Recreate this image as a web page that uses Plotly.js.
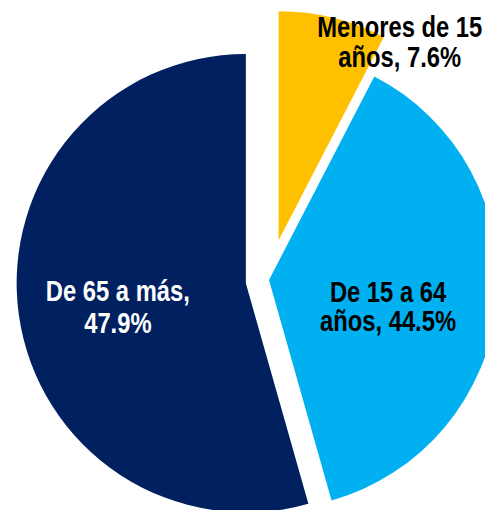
<!DOCTYPE html>
<html>
<head>
<meta charset="utf-8">
<script src="https://cdn.plot.ly/plotly-3.0.1.min.js"></script>
<style>
  html, body { margin: 0; padding: 0; overflow: hidden; background: #ffffff; }
  #frame { position: relative; width: 485px; height: 510px; overflow: hidden; }
  #chart { position: absolute; left: -1px; top: 10px; width: 540px; height: 540px; }
</style>
</head>
<body>
<div id="frame"><div id="chart"></div></div>
<script>
// ---- data ----
const categories = ['Menores de 15 años', 'De 15 a 64 años', 'De 65 a más'];
// angular shares of the slices as drawn in the picture
const sliceValues = [7.6, 38.0, 54.4];
// percentages printed on the labels
const labelPercents = [7.6, 44.5, 47.9];
const sliceColors = ['#FFC000', '#00B0F0', '#002060'];
const textColors = ['#000000', '#000000', '#ffffff'];
const slicePull = [0.178, 0, 0.102];
// words placed on the first label line
const firstLineWords = [3, 4, 4];

// ---- layout helpers ----
const OFF_L = -1, OFF_T = 10, W = 540, H = 540;
const px2x = p => (p - OFF_L) / W;
const px2y = p => 1 - (p - OFF_T) / H;
// label block anchors (page pixels) and gap between the two lines
const labelPos = [[399.5, 45.8], [387.5, 310.8], [118, 309.8]];
const labelLineGap = [30, 29.5, 32];
const CONDENSE = 0.82; // narrow (condensed) face emulation

const font = { family: '"Liberation Sans", Arial, sans-serif', size: 29, weight: 'bold' };

const annotations = categories.map((c, i) => {
  const words = (c + ', ' + labelPercents[i].toFixed(1) + '%').split(' ');
  const text = words.slice(0, firstLineWords[i]).join(' ') + '<br>' + words.slice(firstLineWords[i]).join(' ');
  return {
    text: text, xref: 'paper', yref: 'paper',
    x: px2x(labelPos[i][0]), y: px2y(labelPos[i][1]),
    xanchor: 'center', yanchor: 'middle', align: 'center', showarrow: false,
    font: Object.assign({}, font, { color: textColors[i] })
  };
});

const trace = {
  type: 'pie',
  labels: categories,
  values: sliceValues,
  sort: false,
  direction: 'clockwise',
  rotation: 0,
  pull: slicePull,
  marker: { colors: sliceColors, line: { width: 0 } },
  textinfo: 'none',
  hoverinfo: 'label',
  domain: { x: [0, 1], y: [0, 1] }
};

const layout = {
  width: W, height: H,
  margin: { l: 0, r: 0, t: 0, b: 0, pad: 0 },
  showlegend: false,
  paper_bgcolor: 'rgba(0,0,0,0)',
  plot_bgcolor: 'rgba(0,0,0,0)',
  annotations: annotations
};

Plotly.newPlot('chart', [trace], layout, { staticPlot: true, displayModeBar: false }).then(() => {
  document.querySelectorAll('#chart .annotation-text').forEach((t, i) => {
    const lines = t.querySelectorAll('tspan.line');
    if (lines.length > 1) lines[1].setAttribute('dy', labelLineGap[i]);
    const bb = t.getBBox();
    const cx = bb.x + bb.width / 2;
    t.setAttribute('transform', 'translate(' + cx + ',0) scale(' + CONDENSE + ',1) translate(' + (-cx) + ',0)');
  });
});
</script>
</body>
</html>
